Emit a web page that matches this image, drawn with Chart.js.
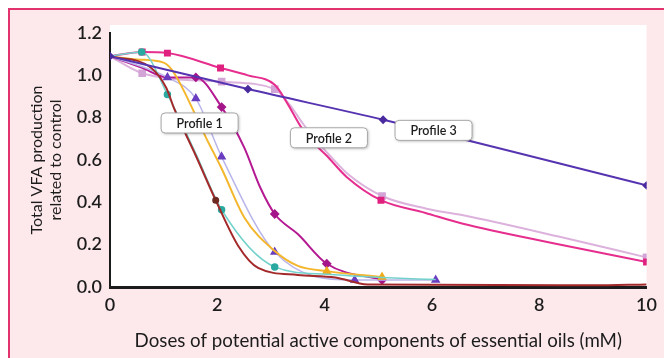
<!DOCTYPE html>
<html>
<head>
<meta charset="utf-8">
<script src="https://cdn.jsdelivr.net/npm/chart.js@4.4.1/dist/chart.umd.min.js"></script>
<style>
  html, body { margin: 0; padding: 0; background: #fff; }
  canvas { display: block; }
</style>
</head>
<body>
<canvas id="myChart" width="664" height="358"></canvas>
<script>
// Profile 1 curves
const brownDoses = [0, 0.77, 1.05, 1.2, 1.6, 1.97, 2.4, 2.76, 3.5, 4.2, 4.8, 9, 10];
const brownVals  = [1.09, 1.035, 0.94, 0.84, 0.62, 0.41, 0.19, 0.09, 0.057, 0.045, 0.012, 0.008, 0.012];

const tealDoses = [0, 0.59, 1.07, 1.6, 2.08, 3.07, 4.04, 5.07, 6.07];
const tealVals  = [1.09, 1.11, 0.91, 0.63, 0.365, 0.095, 0.06, 0.045, 0.035];

const yellowDoses = [0, 0.5, 1.0, 1.14, 1.32, 1.8, 2.08, 2.5, 3.07, 3.5, 4.04, 5.07];
const yellowVals  = [1.09, 1.075, 1.06, 1.03, 0.955, 0.7, 0.56, 0.33, 0.17, 0.1, 0.075, 0.047];

const lilacDoses = [0, 1.07, 1.6, 2.08, 3.07, 4.56, 6.07];
const lilacVals  = [1.09, 0.99, 0.89, 0.615, 0.165, 0.033, 0.033];

const magentaDoses = [0, 0.6, 1.07, 1.6, 2.08, 2.5, 2.8, 3.07, 3.5, 4.04, 5.07];
const magentaVals  = [1.09, 1.035, 0.99, 0.99, 0.85, 0.66, 0.47, 0.345, 0.25, 0.11, 0.033];

// Profile 2 curves
const pinkDoses = [0, 0.6, 1.07, 2.06, 2.57, 3.07, 3.3, 3.55, 3.8, 4.04, 4.41, 5.05, 5.88, 6.56, 8.4, 10];
const pinkVals  = [1.09, 1.11, 1.105, 1.035, 1.0, 0.955, 0.87, 0.76, 0.68, 0.62, 0.52, 0.41, 0.35, 0.30, 0.2, 0.118];

const mauveDoses = [0, 0.6, 2.08, 3.07, 3.35, 3.6, 3.85, 4.1, 4.45, 5.07, 5.9, 6.56, 8.4, 10];
const mauveVals  = [1.09, 1.01, 0.97, 0.935, 0.86, 0.77, 0.69, 0.62, 0.53, 0.43, 0.37, 0.34, 0.236, 0.14];

// Profile 3 curve
const blueDoses = [0, 2.57, 5.09, 10];
const blueVals  = [1.09, 0.935, 0.79, 0.48];

// Boxed profile labels (dose, value)
const profileNames = ['Profile 1', 'Profile 2', 'Profile 3'];
const profileDoses = [1.67, 4.08, 6.03];
const profileVals  = [0.775, 0.705, 0.74];

const xTicks = [0, 2, 4, 6, 8, 10];

const pts = (doses, vals) => doses.map((d, i) => ({ x: d, y: vals[i] }));

const line = (label, doses, vals, color, markColor, style, radius, width) => ({
    label: label,
    data: pts(doses, vals),
    borderColor: color,
    backgroundColor: markColor,
    pointBackgroundColor: markColor,
    pointBorderColor: markColor,
    pointStyle: style,
    pointRadius: radius,
    borderWidth: width,
    cubicInterpolationMode: 'monotone',
    fill: false,
});

// Background, border and plot area
const backdrop = {
    id: 'backdrop',
    beforeDraw(chart) {
        const { ctx, chartArea: a, width, height } = chart;
        ctx.save();
        ctx.fillStyle = '#ffffff';
        ctx.fillRect(0, 0, width, height);
        ctx.fillStyle = '#fde9ec';
        ctx.fillRect(9, 9, width - 9, height - 9);
        ctx.fillStyle = '#ffffff';
        ctx.fillRect(a.left, a.top - 8, a.right - a.left, a.bottom - a.top + 8);
        ctx.strokeStyle = '#e2336f';
        ctx.lineWidth = 2;
        ctx.beginPath();
        ctx.moveTo(9, height);
        ctx.lineTo(9, 9);
        ctx.lineTo(width, 9);
        ctx.stroke();
        ctx.restore();
    }
};

// Rounded label boxes
const profileBoxes = {
    id: 'profileBoxes',
    afterDatasetsDraw(chart) {
        const { ctx, scales } = chart;
        ctx.save();
        ctx.font = '600 12.5px Lato';
        ctx.textAlign = 'center';
        ctx.textBaseline = 'middle';
        profileNames.forEach((name, i) => {
            const cx = scales.x.getPixelForValue(profileDoses[i]);
            const cy = scales.y.getPixelForValue(profileVals[i]);
            const w = 77, h = 20, r = 4;
            const x0 = cx - w / 2, y0 = cy - h / 2;
            ctx.beginPath();
            ctx.moveTo(x0 + r, y0);
            ctx.arcTo(x0 + w, y0, x0 + w, y0 + h, r);
            ctx.arcTo(x0 + w, y0 + h, x0, y0 + h, r);
            ctx.arcTo(x0, y0 + h, x0, y0, r);
            ctx.arcTo(x0, y0, x0 + w, y0, r);
            ctx.closePath();
            ctx.shadowColor = 'rgba(0,0,0,0.3)';
            ctx.shadowBlur = 3;
            ctx.shadowOffsetX = 1;
            ctx.shadowOffsetY = 1;
            ctx.fillStyle = '#ffffff';
            ctx.fill();
            ctx.shadowColor = 'transparent';
            ctx.strokeStyle = '#a8a8a8';
            ctx.lineWidth = 1;
            ctx.stroke();
            ctx.fillStyle = '#1e1e1e';
            ctx.fillText(name, cx, cy + 1);
        });
        ctx.restore();
    }
};

const ctx = document.getElementById('myChart').getContext('2d');
let myChart = new Chart(ctx, {
    type: 'line',
    data: {
        datasets: [
            line('Profile 3', blueDoses, blueVals, '#5633b0', '#4a2a9e', 'rectRot', 3, 2),
            line('Profile 1 a', brownDoses, brownVals, '#a3292b', '#6e2a22', 'circle', [0, 0, 0, 0, 0, 2.5, 0, 0, 0, 0, 0, 0, 0], 2),
            line('Profile 1 b', tealDoses, tealVals, '#74d2cc', '#2aa9a0', 'circle', [0, 3, 3, 0, 3, 3, 0, 0, 0], 1.5),
            line('Profile 1 c', yellowDoses, yellowVals, '#f4b62c', '#f0ac1c', 'triangle', [0, 0, 0, 0, 0, 0, 0, 0, 0, 0, 3.5, 3.5], 2),
            line('Profile 1 d', lilacDoses, lilacVals, '#b9b5ea', '#6a3cc0', 'triangle', [0, 4, 4, 4, 4, 4, 4], 1.5),
            line('Profile 1 e', magentaDoses, magentaVals, '#b41a92', '#a5158a', 'rectRot', [0, 0, 0, 3.5, 3.5, 0, 0, 3.5, 0, 3.5, 3.5], 2),
            line('Profile 2 a', pinkDoses, pinkVals, '#e62e8e', '#e0207f', 'rect', [0, 3.5, 3.5, 3.5, 0, 0, 0, 0, 0, 0, 0, 3.5, 0, 0, 0, 3.5], 2),
            line('Profile 2 b', mauveDoses, mauveVals, '#dcb2dd', '#d3a4d6', 'rect', [0, 4, 4, 4, 0, 0, 0, 0, 0, 4, 0, 0, 0, 4], 2),
        ],
    },
    options: {
        responsive: false,
        animation: false,
        layout: { padding: { left: 0, right: 10, top: 33, bottom: 0 } },
        plugins: {
            legend: { display: false },
            tooltip: { enabled: false },
        },
        scales: {
            x: {
                type: 'linear',
                min: 0,
                max: 10,
                afterBuildTicks: (scale) => { scale.ticks = xTicks.map(v => ({ value: v })); },
                afterFit: (scale) => { scale.height = 71; },
                grid: { display: false, drawTicks: false },
                border: { display: true, color: '#1c1c1c', width: 3 },
                ticks: {
                    color: '#1c1c1c',
                    font: { family: 'Lato', size: 18, weight: '600' },
                    padding: 7,
                },
                title: {
                    display: true,
                    text: 'Doses of potential active components of essential oils (mM)',
                    color: '#1c1c1c',
                    font: { family: 'Lato', size: 18.7, lineHeight: 1.15 },
                    padding: { top: 0, bottom: 6 },
                },
            },
            y: {
                min: 0,
                max: 1.2,
                afterFit: (scale) => { scale.width = 110; },
                grid: { display: false, drawTicks: false },
                border: { display: true, color: '#1c1c1c', width: 2 },
                ticks: {
                    stepSize: 0.2,
                    color: '#1c1c1c',
                    font: { family: 'Lato', size: 18, weight: '600' },
                    padding: 8,
                    callback: (v) => v.toFixed(1),
                },
                title: {
                    display: true,
                    text: ['Total VFA production', 'related to control'],
                    color: '#1c1c1c',
                    font: { family: 'Lato', size: 16, lineHeight: 1.15 },
                    padding: { top: 28, bottom: 0 },
                },
            },
        },
    },
    plugins: [backdrop, profileBoxes],
});
</script>
</body>
</html>
